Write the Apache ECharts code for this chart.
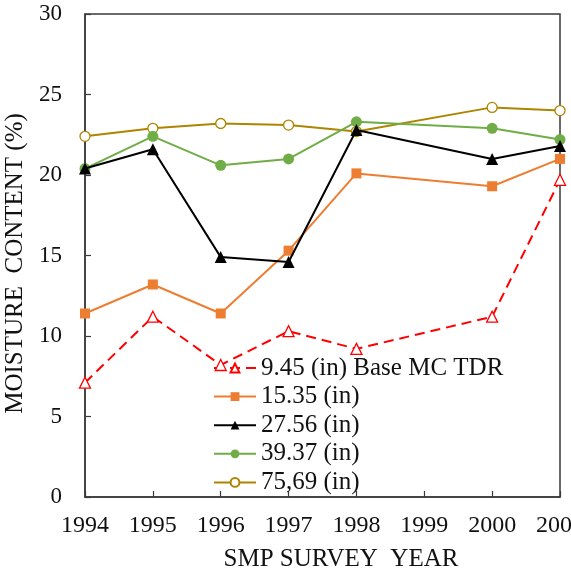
<!DOCTYPE html>
<html>
<head>
<meta charset="utf-8">
<script src="https://cdn.jsdelivr.net/npm/echarts@6/dist/echarts.min.js"></script>
<style>
  html, body { margin: 0; padding: 0; background: #ffffff; }
  #chart { width: 571px; height: 574px; }
</style>
</head>
<body>
<div id="chart"></div>
<script>
// Survey years on the x axis (no readings were taken in 1999)
const years = ['1994', '1995', '1996', '1997', '1998', '1999', '2000', '2001'];

// Moisture content (%) at each probe depth
const depth945 = [7.1, 11.2, 8.2, 10.3, 9.2, null, 11.2, 19.7];
const depth1535 = [11.4, 13.2, 11.4, 15.3, 20.1, null, 19.3, 21.0];
const depth2756 = [20.4, 21.6, 14.9, 14.6, 22.8, null, 21.0, 21.8];
const depth3937 = [20.4, 22.4, 20.6, 21.0, 23.3, null, 22.9, 22.2];
const depth7569 = [22.4, 22.9, 23.2, 23.1, 22.7, null, 24.2, 24.0];

const seriesNames = [
  '9.45 (in) Base MC TDR',
  '15.35 (in)',
  '27.56 (in)',
  '39.37 (in)',
  '75,69 (in)'
];

const FONT = '"Liberation Serif", "Times New Roman", serif';
const AXIS_COLOR = '#3a3a3a';

function lineSeries(name, data, color, symbol, size, opts) {
  opts = opts || {};
  return {
    name: name,
    type: 'line',
    data: data,
    connectNulls: true,
    symbol: symbol,
    symbolSize: size,
    showAllSymbol: true,
    lineStyle: { color: color, width: 2, type: opts.dash || 'solid' },
    itemStyle: opts.hollow
      ? { color: '#ffffff', borderColor: color, borderWidth: 1.3 }
      : { color: color, borderColor: color, borderWidth: 0 },
    emphasis: { disabled: true },
    z: opts.z || 2
  };
}

const chart = echarts.init(document.getElementById('chart'), null, { renderer: 'canvas' });

chart.setOption({
  animation: false,
  backgroundColor: '#ffffff',
  textStyle: { fontFamily: FONT },
  grid: {
    left: 85, right: 11, top: 14, bottom: 77,
    containLabel: false,
    outerBoundsMode: 'none',
    show: true,
    borderColor: AXIS_COLOR,
    borderWidth: 1.5,
    backgroundColor: 'transparent'
  },
  legend: {
    orient: 'vertical',
    left: 213,
    top: 355.5,
    padding: 0,
    itemWidth: 42,
    itemHeight: 11,
    itemGap: 3.6,
    textStyle: { fontFamily: FONT, fontSize: 25, color: '#111111', lineHeight: 25 },
    data: seriesNames
  },
  xAxis: {
    type: 'category',
    data: years,
    boundaryGap: false,
    name: 'SMP SURVEY  YEAR',
    nameLocation: 'middle',
    nameGap: 50,
    nameTextStyle: { fontFamily: FONT, fontSize: 25, color: '#111111', padding: [0, 0, 0, 37] },
    axisLine: { lineStyle: { color: AXIS_COLOR, width: 1.5 } },
    axisTick: { show: true, inside: true, length: 6, alignWithLabel: true, lineStyle: { color: AXIS_COLOR, width: 1.2 } },
    axisLabel: { fontFamily: FONT, fontSize: 24, color: '#111111', margin: 17, interval: 0, showMaxLabel: true, hideOverlap: false },
    splitLine: { show: false }
  },
  yAxis: {
    type: 'value',
    min: 0,
    max: 30,
    interval: 5,
    name: 'MOISTURE  CONTENT (%)',
    nameLocation: 'middle',
    nameGap: 45,
    nameTextStyle: { fontFamily: FONT, fontSize: 25, color: '#111111', padding: [0, 16, 0, 0] },
    axisLine: { show: true, lineStyle: { color: AXIS_COLOR, width: 1.5 } },
    axisTick: { show: true, inside: true, length: 6, lineStyle: { color: AXIS_COLOR, width: 1.2 } },
    axisLabel: { fontFamily: FONT, fontSize: 23, color: '#111111', margin: 23 },
    splitLine: { show: false }
  },
  series: [
    lineSeries(seriesNames[0], depth945, '#ff0000', 'triangle', 11, { hollow: true, dash: [10, 6], z: 5 }),
    lineSeries(seriesNames[1], depth1535, '#ed7d31', 'rect', 10, { z: 3 }),
    lineSeries(seriesNames[2], depth2756, '#000000', 'triangle', 12, { z: 4 }),
    lineSeries(seriesNames[3], depth3937, '#70ad47', 'circle', 11, { z: 3 }),
    lineSeries(seriesNames[4], depth7569, '#ad8500', 'circle', 10, { hollow: true, z: 2 })
  ]
});
</script>
</body>
</html>
